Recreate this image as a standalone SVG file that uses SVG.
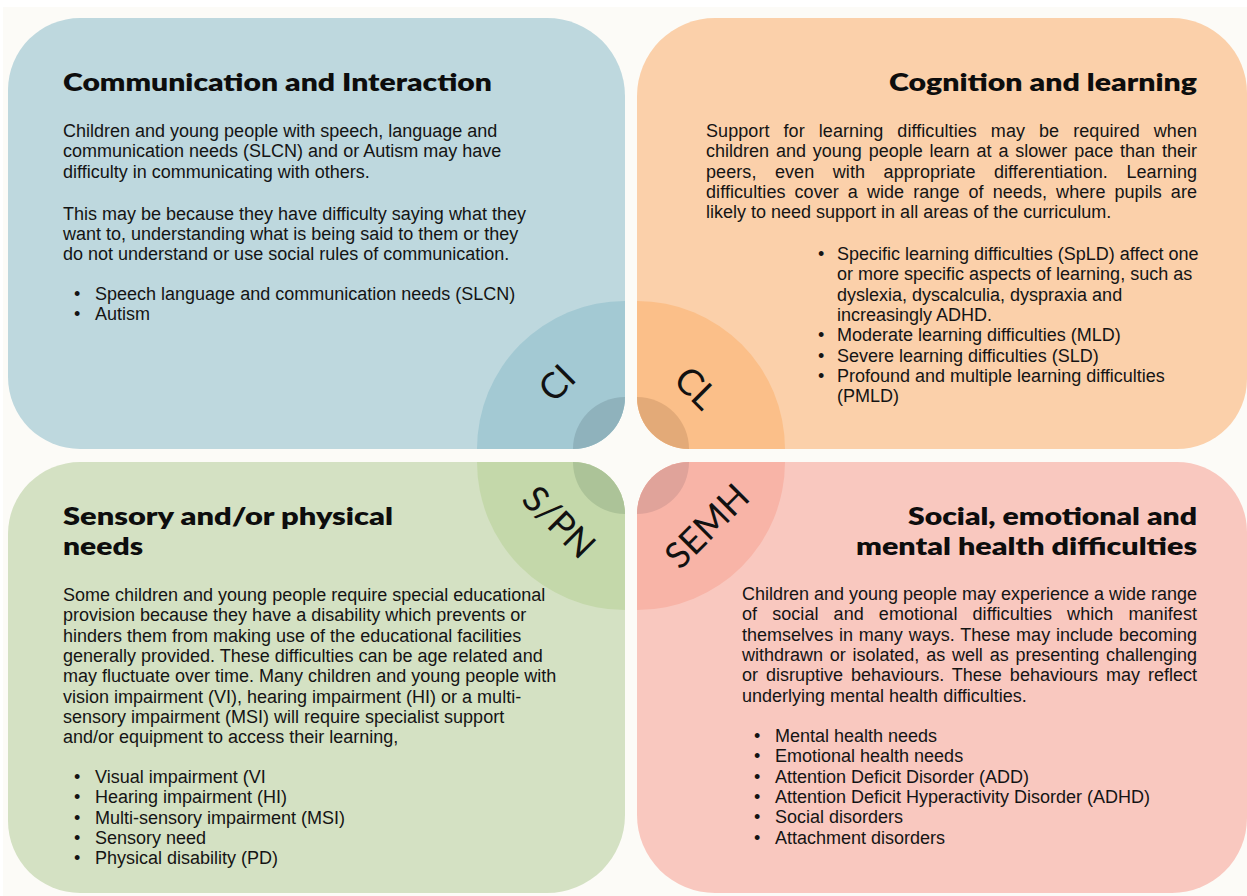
<svg xmlns="http://www.w3.org/2000/svg" xmlns:xlink="http://www.w3.org/1999/xlink" width="1247" height="896" viewBox="0 0 1247 896">
  <style>
    .b { font-family: "Liberation Sans", Arial, sans-serif; font-size: 18px; fill: #141414; }
    .t { font-family: Lato, "Noto Sans", sans-serif; font-weight: 800; font-size: 25px; fill: #0d0d0d; }
    .lbl { font-family: Lato, "Noto Sans", sans-serif; font-weight: 400; font-size: 36px; fill: #111; text-anchor: middle; dominant-baseline: central; }
    .r { text-anchor: end; }
  </style>
  <defs>
    <!-- quadrant outlines: large outer corners, small inner corners facing the centre -->
    <path id="p-tl" d="M80,18 H547 A78,78 0 0 1 625,96 V397 A52,52 0 0 1 573,449 H80 A72,72 0 0 1 8,377 V90 A72,72 0 0 1 80,18 Z"/>
    <path id="p-tr" d="M715,18 H1172 A75,75 0 0 1 1247,93 V379 A70,70 0 0 1 1177,449 H689 A52,52 0 0 1 637,397 V96 A78,78 0 0 1 715,18 Z"/>
    <path id="p-bl" d="M80,462 H573 A52,52 0 0 1 625,514 V815 A78,78 0 0 1 547,893 H80 A72,72 0 0 1 8,821 V534 A72,72 0 0 1 80,462 Z"/>
    <path id="p-br" d="M689,462 H1177 A70,70 0 0 1 1247,532 V818 A75,75 0 0 1 1172,893 H715 A78,78 0 0 1 637,815 V514 A52,52 0 0 1 689,462 Z"/>
    <clipPath id="c-tl"><use xlink:href="#p-tl"/></clipPath>
    <clipPath id="c-tr"><use xlink:href="#p-tr"/></clipPath>
    <clipPath id="c-bl"><use xlink:href="#p-bl"/></clipPath>
    <clipPath id="c-br"><use xlink:href="#p-br"/></clipPath>
  </defs>

  <!-- page -->
  <rect x="0" y="0" width="1247" height="896" fill="#ffffff"/>
  <rect x="3" y="7" width="1244" height="889" fill="#fcfbf7"/>

  <!-- Communication and Interaction -->
  <g id="ci">
    <use xlink:href="#p-tl" fill="#bed8de"/>
    <g clip-path="url(#c-tl)">
      <circle cx="625" cy="449" r="148" fill="#a3c9d3"/>
      <circle cx="625" cy="449" r="52" fill="#8fb2bc"/>
    </g>
    <text class="lbl" transform="translate(556,382) rotate(-45)">CI</text>
    <text class="t" x="63" y="91" textLength="429" lengthAdjust="spacingAndGlyphs">Communication and Interaction</text>
    <text class="b" x="63" y="137">Children and young people with speech, language and</text>
    <text class="b" x="63" y="157.3">communication needs (SLCN) and or Autism may have</text>
    <text class="b" x="63" y="177.6">difficulty in communicating with others.</text>
    <text class="b" x="63" y="219.5">This may be because they have difficulty saying what they</text>
    <text class="b" x="63" y="239.8">want to, understanding what is being said to them or they</text>
    <text class="b" x="63" y="260.1">do not understand or use social rules of communication.</text>
    <text class="b" x="74" y="299.5">•</text><text class="b" x="95" y="299.5">Speech language and communication needs (SLCN)</text>
    <text class="b" x="74" y="319.8">•</text><text class="b" x="95" y="319.8">Autism</text>
  </g>

  <!-- Cognition and learning -->
  <g id="cl">
    <use xlink:href="#p-tr" fill="#fbd0aa"/>
    <g clip-path="url(#c-tr)">
      <circle cx="637" cy="449" r="148" fill="#fbbf89"/>
      <circle cx="637" cy="449" r="52" fill="#e3aa78"/>
    </g>
    <text class="lbl" transform="translate(697,387) rotate(45)">CL</text>
    <text class="t r" x="1197" y="91" textLength="308" lengthAdjust="spacingAndGlyphs">Cognition and learning</text>
    <text class="b" x="706" y="137" word-spacing="8.9" textLength="491" lengthAdjust="spacing">Support for learning difficulties may be required when</text>
    <text class="b" x="706" y="157.3" word-spacing="1.9" textLength="491" lengthAdjust="spacing">children and young people learn at a slower pace than their</text>
    <text class="b" x="706" y="177.6" word-spacing="13.4" textLength="491" lengthAdjust="spacing">peers, even with appropriate differentiation. Learning</text>
    <text class="b" x="706" y="197.9" word-spacing="3.9" textLength="491" lengthAdjust="spacing">difficulties cover a wide range of needs, where pupils are</text>
    <text class="b" x="706" y="218.2">likely to need support in all areas of the curriculum.</text>
    <text class="b" x="818" y="260">•</text><text class="b" x="837" y="260">Specific learning difficulties (SpLD) affect one</text>
    <text class="b" x="837" y="280.3">or more specific aspects of learning, such as</text>
    <text class="b" x="837" y="300.6">dyslexia, dyscalculia, dyspraxia and</text>
    <text class="b" x="837" y="320.9">increasingly ADHD.</text>
    <text class="b" x="818" y="341.2">•</text><text class="b" x="837" y="341.2">Moderate learning difficulties (MLD)</text>
    <text class="b" x="818" y="361.5">•</text><text class="b" x="837" y="361.5">Severe learning difficulties (SLD)</text>
    <text class="b" x="818" y="381.8">•</text><text class="b" x="837" y="381.8">Profound and multiple learning difficulties</text>
    <text class="b" x="837" y="402.1">(PMLD)</text>
  </g>

  <!-- Sensory and/or physical needs -->
  <g id="spn">
    <use xlink:href="#p-bl" fill="#d4e1c3"/>
    <g clip-path="url(#c-bl)">
      <circle cx="625" cy="462" r="148" fill="#c4d8aa"/>
      <circle cx="625" cy="462" r="52" fill="#acc398"/>
    </g>
    <text class="lbl" transform="translate(560,521) rotate(45)">S/PN</text>
    <text class="t" x="63" y="525" textLength="330" lengthAdjust="spacingAndGlyphs">Sensory and/or physical</text>
    <text class="t" x="63" y="555" textLength="80" lengthAdjust="spacingAndGlyphs">needs</text>
    <text class="b" x="63" y="601">Some children and young people require special educational</text>
    <text class="b" x="63" y="621.3">provision because they have a disability which prevents or</text>
    <text class="b" x="63" y="641.6">hinders them from making use of the educational facilities</text>
    <text class="b" x="63" y="661.9">generally provided. These difficulties can be age related and</text>
    <text class="b" x="63" y="682.2">may fluctuate over time. Many children and young people with</text>
    <text class="b" x="63" y="702.5">vision impairment (VI), hearing impairment (HI) or a multi-</text>
    <text class="b" x="63" y="722.8">sensory impairment (MSI) will require specialist support</text>
    <text class="b" x="63" y="743.1">and/or equipment to access their learning,</text>
    <text class="b" x="74" y="783">•</text><text class="b" x="95" y="783">Visual impairment (VI</text>
    <text class="b" x="74" y="803.3">•</text><text class="b" x="95" y="803.3">Hearing impairment (HI)</text>
    <text class="b" x="74" y="823.6">•</text><text class="b" x="95" y="823.6">Multi-sensory impairment (MSI)</text>
    <text class="b" x="74" y="843.9">•</text><text class="b" x="95" y="843.9">Sensory need</text>
    <text class="b" x="74" y="864.2">•</text><text class="b" x="95" y="864.2">Physical disability (PD)</text>
  </g>

  <!-- Social, emotional and mental health difficulties -->
  <g id="semh">
    <use xlink:href="#p-br" fill="#f9c8bf"/>
    <g clip-path="url(#c-br)">
      <circle cx="637" cy="462" r="148" fill="#f8b4a7"/>
      <circle cx="637" cy="462" r="52" fill="#e0a39a"/>
    </g>
    <text class="lbl" transform="translate(706,525) rotate(-45)">SEMH</text>
    <text class="t r" x="1197" y="525" textLength="289" lengthAdjust="spacingAndGlyphs">Social, emotional and</text>
    <text class="t r" x="1197" y="555" textLength="341" lengthAdjust="spacingAndGlyphs">mental health difficulties</text>
    <text class="b" x="742" y="600" textLength="455" lengthAdjust="spacing">Children and young people may experience a wide range</text>
    <text class="b" x="742" y="620.3" word-spacing="9.9" textLength="455" lengthAdjust="spacing">of social and emotional difficulties which manifest</text>
    <text class="b" x="742" y="640.6" word-spacing="0.8" textLength="455" lengthAdjust="spacing">themselves in many ways. These may include becoming</text>
    <text class="b" x="742" y="660.9" word-spacing="1.8" textLength="455" lengthAdjust="spacing">withdrawn or isolated, as well as presenting challenging</text>
    <text class="b" x="742" y="681.2" word-spacing="3" textLength="455" lengthAdjust="spacing">or disruptive behaviours. These behaviours may reflect</text>
    <text class="b" x="742" y="701.5">underlying mental health difficulties.</text>
    <text class="b" x="754" y="742">•</text><text class="b" x="775" y="742">Mental health needs</text>
    <text class="b" x="754" y="762.3">•</text><text class="b" x="775" y="762.3">Emotional health needs</text>
    <text class="b" x="754" y="782.6">•</text><text class="b" x="775" y="782.6">Attention Deficit Disorder (ADD)</text>
    <text class="b" x="754" y="802.9">•</text><text class="b" x="775" y="802.9">Attention Deficit Hyperactivity Disorder (ADHD)</text>
    <text class="b" x="754" y="823.2">•</text><text class="b" x="775" y="823.2">Social disorders</text>
    <text class="b" x="754" y="843.5">•</text><text class="b" x="775" y="843.5">Attachment disorders</text>
  </g>
</svg>
